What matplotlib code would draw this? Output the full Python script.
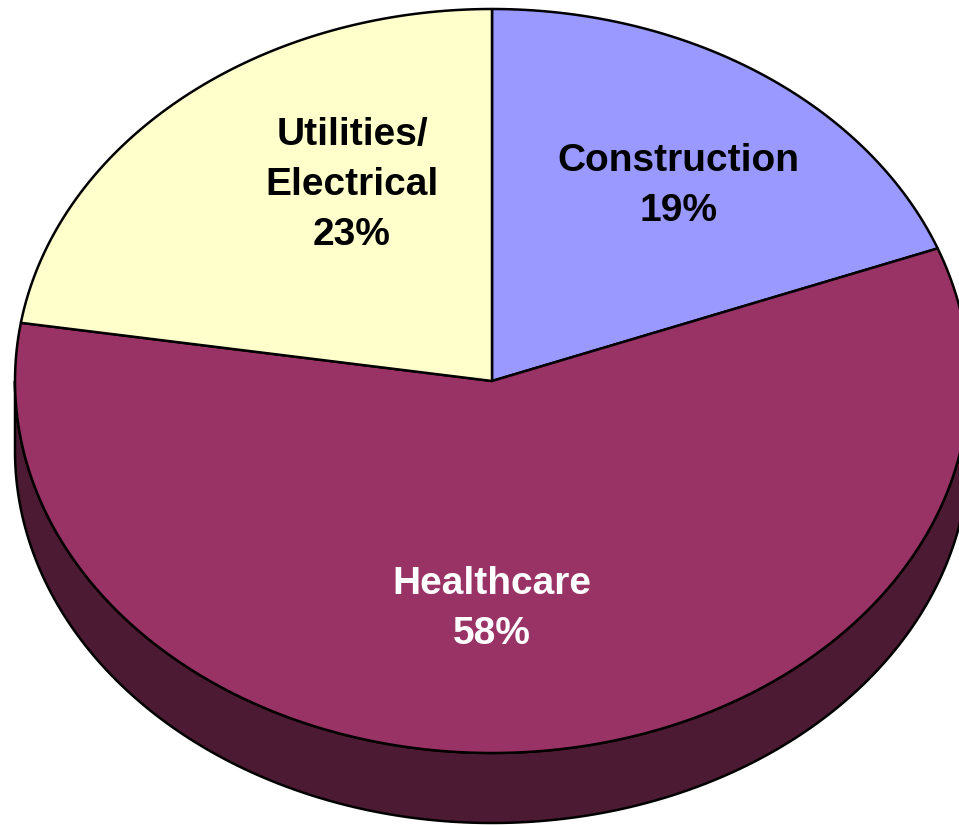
import matplotlib
matplotlib.use("Agg")
import matplotlib.pyplot as plt
import numpy as np
from matplotlib.patches import Polygon
from matplotlib.colors import to_rgb

# slice data (clockwise from 12 o'clock)
labels = ["Construction", "Healthcare", "Utilities/\nElectrical"]
values = [19.2, 58.3, 22.5]
pct_text = ["19%", "58%", "23%"]
colors = ["#9999FF", "#993366", "#FFFFCC"]
text_colors = ["black", "white", "black"]

# pie geometry in pixels
cx, cy = 492, 381
rx, ry = 477, 372
depth = 70

fig = plt.figure(figsize=(9.59, 8.25), dpi=100)
ax = fig.add_axes([0, 0, 1, 1])
ax.set_xlim(0, 959)
ax.set_ylim(825, 0)
ax.axis("off")


def arc(a0, a1, dy=0, n=200):
    t = np.radians(np.linspace(a0, a1, n))
    return np.column_stack([cx + rx * np.cos(t), cy - ry * np.sin(t) + dy])


def darker(c, f=0.5):
    return tuple(v * f for v in to_rgb(c))


# slice angles in degrees, counter-clockwise from +x axis
fracs = np.array(values) / sum(values)
starts = 90 - 360 * np.concatenate([[0], np.cumsum(fracs)[:-1]])
ends = starts - 360 * fracs

# side wall (front half only: angles between 180 and 360)
for s, e, c in zip(starts, ends, colors):
    lo, hi = min(s, e), max(s, e)
    for k in (-360, 0, 360):
        a0 = max(lo + k, 180)
        a1 = min(hi + k, 360)
        if a1 > a0:
            top = arc(a0, a1)
            bot = arc(a1, a0, dy=depth)
            ax.add_patch(Polygon(np.vstack([top, bot]), closed=True,
                                 facecolor=darker(c), edgecolor="black",
                                 lw=1.8, joinstyle="round"))

# top face slices
for s, e, c in zip(starts, ends, colors):
    pts = np.vstack([[cx, cy], arc(s, e)])
    ax.add_patch(Polygon(pts, closed=True, facecolor=c, edgecolor="black",
                         lw=1.8, joinstyle="round"))

# labels
label_pos = [(678, 186), (492, 609), (352, 185)]
for (x, y), lab, p, tc in zip(label_pos, labels, pct_text, text_colors):
    ax.text(x, y, lab + "\n" + p, ha="center", va="center", fontsize=28,
            fontweight="bold", family="Liberation Sans", color=tc,
            linespacing=1.5)

fig.savefig("out.png", dpi=100)
